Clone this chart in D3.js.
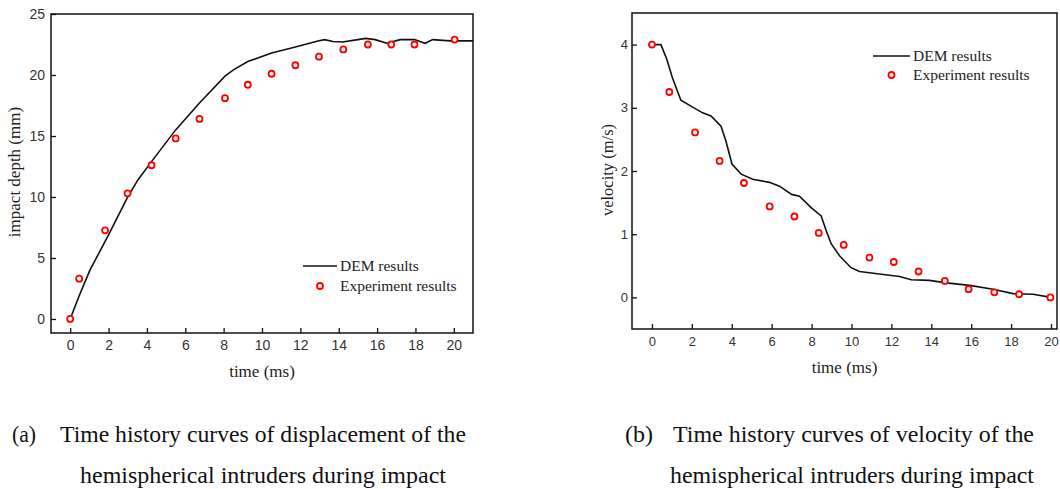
<!DOCTYPE html>
<html>
<head>
<meta charset="utf-8">
<script src="https://cdn.jsdelivr.net/npm/d3@7"></script>
<style>
  body { margin: 0; background: #fff; }
  svg { display: block; }
  .tick text { font-family: "Liberation Sans", Arial, sans-serif; fill: #333; }
  .serif { font-family: "Liberation Serif", "Times New Roman", serif; fill: #222; }
</style>
</head>
<body>
<svg id="chart" width="1060" height="489"></svg>
<script>
// (a) displacement: DEM curve
const depthDemTime = [0, 0.47, 1.03, 2, 3, 3.53, 4.24, 5.5, 6.74, 8.07, 8.49, 9.26, 10.5, 11.74, 12.97, 13.27, 13.7, 14.2, 15.0, 15.4, 15.9, 16.5, 17.2, 17.95, 18.5, 18.9, 19.8, 21];
const depthDemValue = [0, 1.9, 4.0, 6.9, 10.0, 11.4, 12.9, 15.5, 17.7, 19.9, 20.4, 21.1, 21.8, 22.3, 22.8, 22.9, 22.75, 22.7, 22.9, 23.0, 22.9, 22.6, 22.9, 22.9, 22.6, 22.9, 22.8, 22.8];
// (a) displacement: experiment points
const depthExpTime = [0, 0.47, 1.82, 2.99, 4.24, 5.5, 6.74, 8.07, 9.26, 10.5, 11.74, 12.97, 14.24, 15.52, 16.74, 17.95, 20.04];
const depthExpValue = [0, 3.3, 7.27, 10.3, 12.6, 14.8, 16.4, 18.1, 19.2, 20.1, 20.8, 21.5, 22.1, 22.5, 22.5, 22.5, 22.9];

// (b) velocity: DEM curve
const velDemTime = [0, 0.45, 0.73, 1.03, 1.45, 2.04, 2.54, 2.96, 3.46, 3.71, 4.01, 4.47, 5.05, 5.89, 6.39, 7.0, 7.39, 7.98, 8.48, 8.73, 8.98, 9.4, 9.98, 10.4, 11.4, 12.41, 13.0, 13.9, 14.75, 15.92, 17.1, 18.1, 19.1, 20];
const velDemValue = [4.0, 4.0, 3.78, 3.47, 3.12, 3.01, 2.92, 2.87, 2.71, 2.47, 2.11, 1.95, 1.87, 1.82, 1.76, 1.63, 1.6, 1.42, 1.29, 1.06, 0.85, 0.66, 0.47, 0.41, 0.37, 0.33, 0.28, 0.27, 0.23, 0.19, 0.13, 0.06, 0.05, 0.0];
// (b) velocity: experiment points
const velExpTime = [0, 0.87, 2.16, 3.39, 4.61, 5.9, 7.14, 8.36, 9.61, 10.9, 12.12, 13.36, 14.68, 15.87, 17.16, 18.4, 19.97];
const velExpValue = [4.0, 3.25, 2.61, 2.16, 1.81, 1.44, 1.28, 1.02, 0.83, 0.63, 0.56, 0.41, 0.26, 0.13, 0.08, 0.05, 0.0];

// ticks and labels
const timeTicks = [0, 2, 4, 6, 8, 10, 12, 14, 16, 18, 20];
const depthTicks = [0, 5, 10, 15, 20, 25];
const velTicks = [0, 1, 2, 3, 4];
const legendLabels = ["DEM results", "Experiment results"];

const svg = d3.select("#chart");

function zip(xs, ys) {
    return xs.map((x, i) => ({ t: x, v: ys[i] }));
}

// Draw one panel
function drawPanel(opt) {
    const x = d3.scaleLinear().domain(opt.xDomain).range([opt.left, opt.right]);
    const y = d3.scaleLinear().domain(opt.yDomain).range([opt.bottom, opt.top]);
    const g = svg.append("g");

    // x axis (inward ticks)
    g.append("g")
        .attr("transform", `translate(0,${opt.bottom})`)
        .call(d3.axisBottom(x).tickValues(timeTicks).tickFormat(d3.format("d"))
            .tickSizeInner(-5).tickSizeOuter(0).tickPadding(opt.xPad))
        .call(s => s.select(".domain").remove())
        .call(s => s.selectAll("text").style("font-size", opt.tickFont + "px"))
        .call(s => s.selectAll("line").attr("stroke", "#111").attr("stroke-width", 1.3));

    // y axis
    g.append("g")
        .attr("transform", `translate(${opt.left},0)`)
        .call(d3.axisLeft(y).tickValues(opt.yTicks).tickFormat(d3.format("d"))
            .tickSizeInner(-5).tickSizeOuter(0).tickPadding(opt.yPad))
        .call(s => s.select(".domain").remove())
        .call(s => s.selectAll("text").style("font-size", opt.tickFont + "px"))
        .call(s => s.selectAll("line").attr("stroke", "#111").attr("stroke-width", 1.3));

    // frame
    g.append("rect")
        .attr("x", opt.left).attr("y", opt.top)
        .attr("width", opt.right - opt.left).attr("height", opt.bottom - opt.top)
        .attr("fill", "none").attr("stroke", "#111").attr("stroke-width", 1.5);

    // DEM line
    const line = d3.line().x(d => x(d.t)).y(d => y(d.v));
    g.append("path")
        .datum(zip(opt.demT, opt.demV))
        .attr("d", line)
        .attr("fill", "none")
        .attr("stroke", "#111")
        .attr("stroke-width", 1.6);

    // experiment points
    g.selectAll(".pt")
        .data(zip(opt.expT, opt.expV))
        .enter().append("circle")
        .attr("cx", d => x(d.t))
        .attr("cy", d => y(d.v))
        .attr("r", 3)
        .attr("fill", "#fff")
        .attr("stroke", "#f00")
        .attr("stroke-width", 1.8);

    // axis titles
    g.append("text").attr("class", "serif")
        .attr("x", (opt.left + opt.right) / 2).attr("y", opt.xTitleY)
        .attr("text-anchor", "middle")
        .style("font-size", "17px")
        .text("time (ms)");
    g.append("text").attr("class", "serif")
        .attr("transform", `translate(${opt.yTitleX},${opt.yTitleMid}) rotate(-90)`)
        .attr("text-anchor", "middle")
        .style("font-size", opt.yTitleFont + "px")
        .text(opt.yTitle);

    // legend
    const lg = g.append("g");
    lg.append("line")
        .attr("x1", opt.legX1).attr("x2", opt.legX2)
        .attr("y1", opt.legY).attr("y2", opt.legY)
        .attr("stroke", "#111").attr("stroke-width", 1.6);
    lg.append("circle")
        .attr("cx", (opt.legX1 + opt.legX2) / 2).attr("cy", opt.legY + opt.legGap)
        .attr("r", 3).attr("fill", "#fff").attr("stroke", "#f00").attr("stroke-width", 1.8);
    legendLabels.forEach((lab, i) => {
        lg.append("text").attr("class", "serif")
            .attr("x", opt.legX2 + 3)
            .attr("y", opt.legY + 5 + i * opt.legGap)
            .style("font-size", "15.5px")
            .text(lab);
    });
}

drawPanel({
    left: 51, right: 473, top: 14, bottom: 333,
    xDomain: [-1, 21], yDomain: [-1.15, 25], yTicks: depthTicks,
    tickFont: 14, xPad: 7, yPad: 6,
    demT: depthDemTime, demV: depthDemValue, expT: depthExpTime, expV: depthExpValue,
    xTitleY: 377, yTitle: "impact depth (mm)", yTitleX: 20, yTitleMid: 172, yTitleFont: 17,
    legX1: 303, legX2: 337, legY: 266, legGap: 20
});

drawPanel({
    left: 632, right: 1057, top: 13, bottom: 329,
    xDomain: [-1, 20.3], yDomain: [-0.5, 4.5], yTicks: velTicks,
    tickFont: 13, xPad: 8, yPad: 4,
    demT: velDemTime, demV: velDemValue, expT: velExpTime, expV: velExpValue,
    xTitleY: 373, yTitle: "velocity (m/s)", yTitleX: 613, yTitleMid: 170, yTitleFont: 16.5,
    legX1: 873, legX2: 910, legY: 56, legGap: 19
});

// captions
const captions = [
    { x: 12, y: 442, w: 24, text: "(a)" },
    { x: 60, y: 442, w: 406, text: "Time history curves of displacement of the" },
    { x: 80, y: 483, w: 366, text: "hemispherical intruders during impact" },
    { x: 625, y: 442, w: 28, text: "(b)" },
    { x: 673, y: 442, w: 361, text: "Time history curves of velocity of the" },
    { x: 670, y: 483, w: 364, text: "hemispherical intruders during impact" }
];
svg.selectAll(".cap")
    .data(captions)
    .enter().append("text")
    .attr("class", "serif")
    .attr("x", d => d.x).attr("y", d => d.y)
    .attr("textLength", d => d.w)
    .attr("lengthAdjust", "spacingAndGlyphs")
    .style("font-size", "23px")
    .style("fill", "#111")
    .text(d => d.text);
</script>
</body>
</html>
